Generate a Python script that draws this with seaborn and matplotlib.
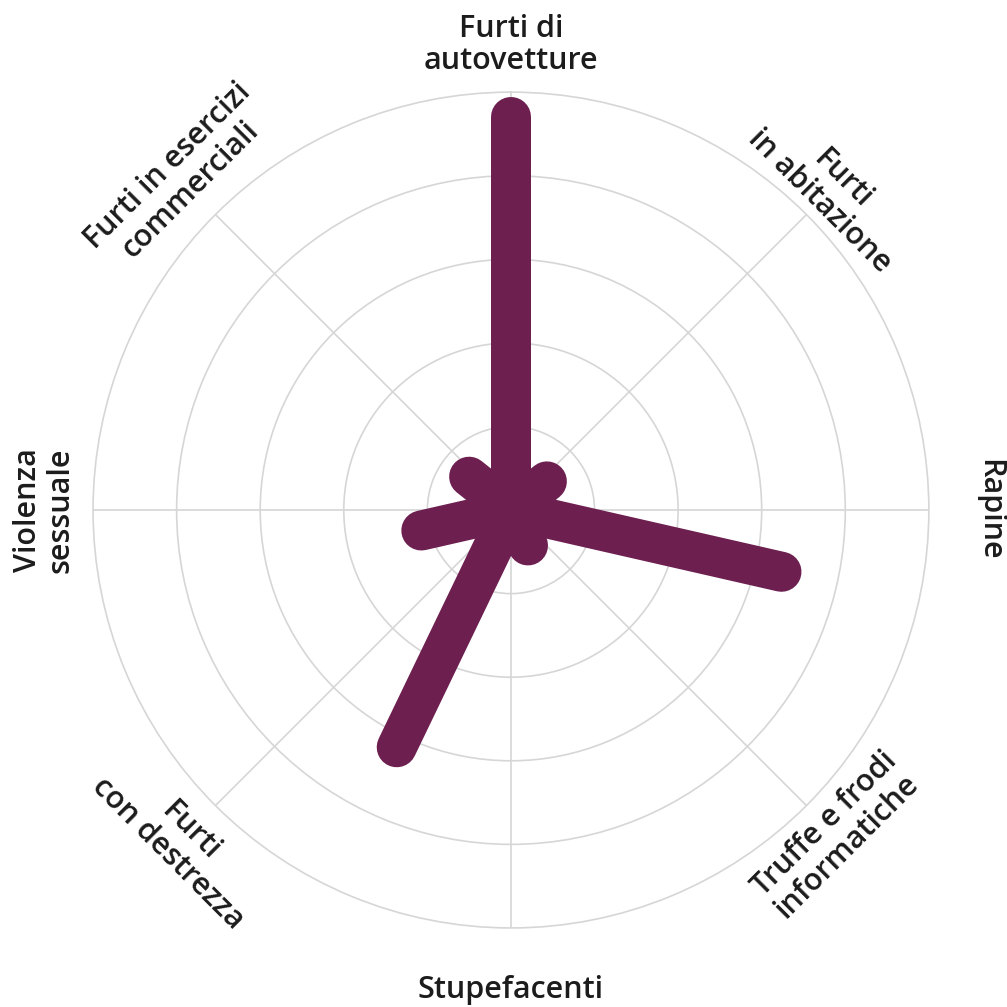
import numpy as np
import pandas as pd
import matplotlib
matplotlib.use("Agg")
import matplotlib.pyplot as plt
import seaborn as sns

# category labels (8 axes around the circle)
categories = ["Furti di\nautovetture", "Furti\nin abitazione", "Rapine",
              "Truffe e frodi\ninformatiche", "Stupefacenti",
              "Furti\ncon destrezza", "Violenza\nsessuale",
              "Furti in esercizi\ncommerciali"]

# the plotted spokes: 7 values, spread evenly round the circle
values = [4.70, 0.55, 3.32, 0.47, 3.15, 1.10, 0.64]

rings = [1, 2, 3, 4, 5]

# label placement (radius in ring units, rotation in degrees)
label_r = [5.56, 5.42, 5.72, 5.50, 5.74, 5.62, 5.58, 5.62]
label_rot = [0, -45, -90, 45, 0, -45, 90, 45]

sns.set_theme(style="white")
plt.rcParams['font.family'] = ['Open Sans', 'DejaVu Sans']

n = len(values)
spoke_angle = [2 * np.pi * i / n for i in range(n)]
rows = []
for i, v in enumerate(values):
    rows.append({'spoke': i, 'theta': spoke_angle[i], 'r': 0.0})
    rows.append({'spoke': i, 'theta': spoke_angle[i], 'r': v})
df = pd.DataFrame(rows)

fig = plt.figure(figsize=(10.07, 10.07), dpi=100)
ax = fig.add_axes([0.0924, 0.0785, 0.830, 0.830], projection='polar')
ax.set_theta_zero_location('N')
ax.set_theta_direction(-1)

sns.lineplot(data=df, x='theta', y='r', units='spoke', estimator=None,
             sort=False, color='#6d1f50', linewidth=28.8,
             solid_capstyle='round', ax=ax, legend=False)

grid_col = '#d6d6d6'
cat_angle = [2 * np.pi * i / len(categories) for i in range(len(categories))]
ax.set_xticks(cat_angle)
ax.set_xticklabels([])
ax.set_yticks(rings[:-1])
ax.set_yticklabels([])
ax.set_ylim(0, rings[-1])
ax.grid(True, color=grid_col, linewidth=1.2)
ax.set_axisbelow(True)
ax.spines['polar'].set_color(grid_col)
ax.spines['polar'].set_linewidth(1.2)
ax.set_xlabel('')
ax.set_ylabel('')
ax.tick_params(length=0)

for a, lab, r, rot in zip(cat_angle, categories, label_r, label_rot):
    ax.text(a, r, lab, ha='center', va='center', rotation=rot,
            rotation_mode='anchor', fontsize=22, fontweight='semibold',
            color='#1c1c1c', linespacing=1.1, multialignment='center')

fig.savefig('out.png', dpi=100, facecolor='white')
